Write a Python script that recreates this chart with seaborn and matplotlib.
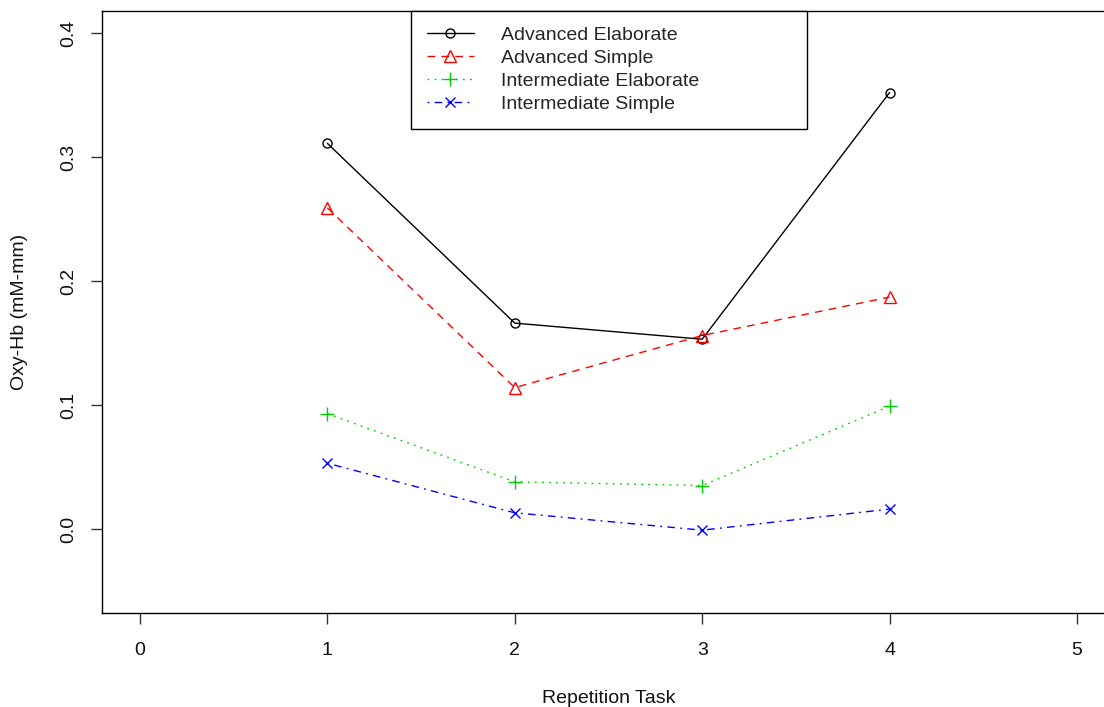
import pandas as pd
import seaborn as sns
import matplotlib.pyplot as plt

# data
tasks = [1, 2, 3, 4]
adv_elaborate = [0.311, 0.166, 0.153, 0.352]
adv_simple = [0.259, 0.114, 0.156, 0.187]
int_elaborate = [0.093, 0.038, 0.035, 0.099]
int_simple = [0.053, 0.013, -0.001, 0.016]
series_names = ["Advanced Elaborate", "Advanced Simple",
                "Intermediate Elaborate", "Intermediate Simple"]
x_ticks = [0, 1, 2, 3, 4, 5]
y_ticks = [0.0, 0.1, 0.2, 0.3, 0.4]

df = pd.DataFrame({
    "task": tasks * 4,
    "value": adv_elaborate + adv_simple + int_elaborate + int_simple,
    "group": [n for n in series_names for _ in tasks],
})

# R-style look: classic palette, lty 1..4, pch 1..4
colors = ["black", "#FF0000", "#00CD00", "#0000FF"]
markers = ["o", "^", "+", "x"]
msizes = [6.5, 8.5, 9.5, 7.5]
styles = ["-", (0, (5.5, 4.5)), (0, (1.3, 3.8)), (0, (1.3, 3.8, 5.5, 3.8))]

sns.set_style("ticks")
plt.rcParams["font.family"] = ["Liberation Sans", "DejaVu Sans"]

fig = plt.figure(figsize=(11.04, 7.07), dpi=100)
ax = fig.add_axes([0.0928, 0.1326, 0.9167, 0.8523])

for name, c, m, ms, ls in zip(series_names, colors, markers, msizes, styles):
    sub = df[df["group"] == name]
    sns.lineplot(data=sub, x="task", y="value", ax=ax, color=c, linestyle=ls,
                 linewidth=1.0, marker=m, markersize=ms, markerfacecolor="none",
                 markeredgecolor=c, markeredgewidth=1.0, label=name,
                 legend=False)

ax.set_xlim(-0.2, 5.2)
ax.set_ylim(-0.068, 0.418)
ax.set_xticks(x_ticks)
ax.set_xticklabels([str(t) for t in x_ticks])
ax.set_yticks(y_ticks)
ax.set_yticklabels([f"{t:.1f}" for t in y_ticks], rotation=90, va="center")

for sp in ax.spines.values():
    sp.set_color("black")
    sp.set_linewidth(1.0)
ax.tick_params(axis="both", length=8, width=1.0, color="#333333",
               labelsize=14, labelcolor="#111111")
ax.tick_params(axis="x", pad=13)
ax.tick_params(axis="y", pad=10)

ax.set_xlabel("Repetition Task", fontsize=14, color="#111111")
ax.set_ylabel("Oxy-Hb (mM-mm)", fontsize=14, color="#111111")
ax.xaxis.set_label_coords(0.5, -0.141)
ax.xaxis.label.set_verticalalignment("center")
ax.yaxis.set_label_coords(-0.0815, 0.5)
ax.yaxis.label.set_verticalalignment("center")

leg = ax.legend(loc="upper left", bbox_to_anchor=(0.3048, 0.0, 0.3913, 1.0),
                mode="expand", fontsize=14, frameon=True, fancybox=False,
                edgecolor="black", framealpha=1.0, borderaxespad=0,
                borderpad=0.82, labelspacing=0.27, handlelength=2.4,
                handletextpad=1.4)
leg.get_frame().set_linewidth(1.0)

fig.savefig("out.png", dpi=100)
